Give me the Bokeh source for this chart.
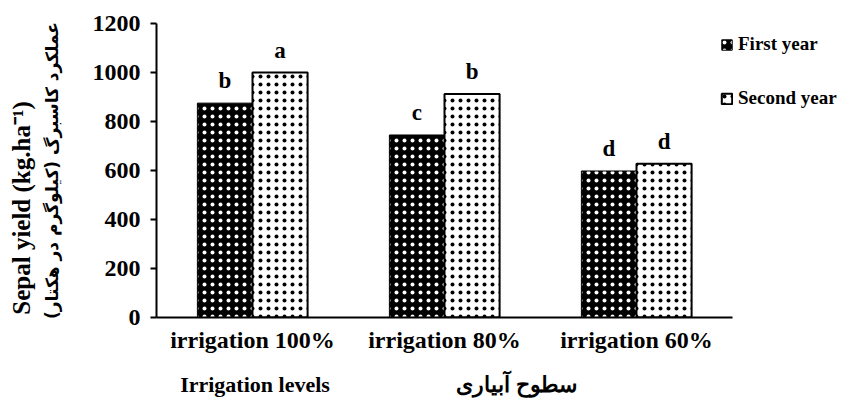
import math
from bokeh.plotting import figure
from bokeh.models import (FactorRange, Legend, LegendItem, LabelSet,
                          ColumnDataSource, FixedTicker, LinearAxis)
from bokeh.transform import dodge
from bokeh.embed import file_html
from bokeh.resources import INLINE

levels = ["irrigation 100%", "irrigation 80%", "irrigation 60%"]
first_year = [875, 745, 598]
second_year = [1000, 912, 628]
first_letters = ["b", "c", "d"]
second_letters = ["a", "b", "d"]
y_ticks = [0, 200, 400, 600, 800, 1000, 1200]

SERIF = "Liberation Serif"
NB = "\u00a0"

src = ColumnDataSource(dict(level=levels, first=first_year, second=second_year,
                            lf=first_letters, ls=second_letters))

p = figure(x_range=FactorRange(*levels), y_range=(0, 1200),
           frame_width=576, frame_height=294,
           min_border_left=156, min_border_right=112,
           min_border_top=23, min_border_bottom=78,
           output_backend="svg", toolbar_location=None)

bw = 0.287
r1 = p.vbar(x=dodge("level", -bw / 2, range=p.x_range), top="first", width=bw,
            source=src, fill_color="black", line_color="black", line_width=1,
            hatch_pattern="dot", hatch_color="white", hatch_scale=8,
            hatch_weight=0.5)
r2 = p.vbar(x=dodge("level", bw / 2, range=p.x_range), top="second", width=bw,
            source=src, fill_color="white", line_color="black", line_width=2,
            hatch_pattern="dot", hatch_color="black", hatch_scale=8,
            hatch_weight=0.5)

for col, off, ycol in (("lf", -bw / 2, "first"), ("ls", bw / 2, "second")):
    lab = LabelSet(x=dodge("level", off, range=p.x_range), y=ycol, text=col,
                   source=src, y_offset=15, text_align="center",
                   text_baseline="alphabetic", text_font=SERIF,
                   text_font_style="bold", text_font_size="23px",
                   text_color="black")
    p.add_layout(lab)

p.xgrid.visible = False
p.ygrid.visible = False
p.outline_line_color = None

# main y axis (ticks + Persian title)
p.yaxis.ticker = FixedTicker(ticks=y_ticks)
p.yaxis.minor_tick_line_color = None
p.yaxis.minor_tick_out = 0
p.yaxis.major_tick_out = 6
p.yaxis.major_tick_in = 0
p.yaxis.axis_line_width = 2
p.yaxis.major_tick_line_width = 2
p.yaxis.major_label_text_font = SERIF
p.yaxis.major_label_text_font_style = "bold"
p.yaxis.major_label_text_font_size = "24px"
p.yaxis.major_label_text_color = "black"
p.yaxis.major_label_standoff = 10
p.yaxis.axis_label = "\u200fعملکرد کاسبرگ (کیلوگرم در هکتار)\u200f"
p.yaxis.axis_label_text_font = "DejaVu Sans"
p.yaxis.axis_label_text_font_style = "bold"
p.yaxis.axis_label_text_font_size = "17px"
p.yaxis.axis_label_text_color = "black"
p.yaxis.axis_label_standoff = 28

# outer y axis only carrying the English title
outer = LinearAxis(ticker=FixedTicker(ticks=[]), axis_line_color=None,
                   major_tick_line_color=None, minor_tick_line_color=None,
                   major_tick_out=0, minor_tick_out=0, major_label_standoff=0,
                   axis_label="Sepal yield (kg.ha\u207b\u00b9)" + NB * 12,
                   axis_label_standoff=4, axis_label_text_font=SERIF,
                   axis_label_text_font_style="bold",
                   axis_label_text_font_size="25px",
                   axis_label_text_color="black")
p.add_layout(outer, "left")

p.xaxis.major_tick_line_color = None
p.xaxis.minor_tick_line_color = None
p.xaxis.major_tick_out = 0
p.xaxis.minor_tick_out = 0
p.xaxis.axis_line_width = 2
p.xaxis.major_label_text_font = SERIF
p.xaxis.major_label_text_font_style = "bold"
p.xaxis.major_label_text_font_size = "24px"
p.xaxis.major_label_text_color = "black"
p.xaxis.major_label_standoff = 9
p.xaxis.axis_label = "Irrigation levels" + NB * 23 + "سطوح آبیاری" + NB * 24
p.xaxis.axis_label_text_font = SERIF
p.xaxis.axis_label_text_font_style = "bold"
p.xaxis.axis_label_text_font_size = "22px"
p.xaxis.axis_label_text_color = "black"
p.xaxis.axis_label_standoff = 16

legend = Legend(items=[LegendItem(label="First year", renderers=[r1]),
                       LegendItem(label="Second year", renderers=[r2])],
                location=(-12, 208), padding=0, margin=0, spacing=32,
                glyph_width=13, glyph_height=13, label_height=20,
                label_standoff=5, label_text_font=SERIF,
                label_text_font_style="bold", label_text_font_size="19px",
                label_text_color="black",
                background_fill_alpha=0, border_line_color=None)
p.add_layout(legend, "right")

open("out.html", "w").write(file_html(p, INLINE))
